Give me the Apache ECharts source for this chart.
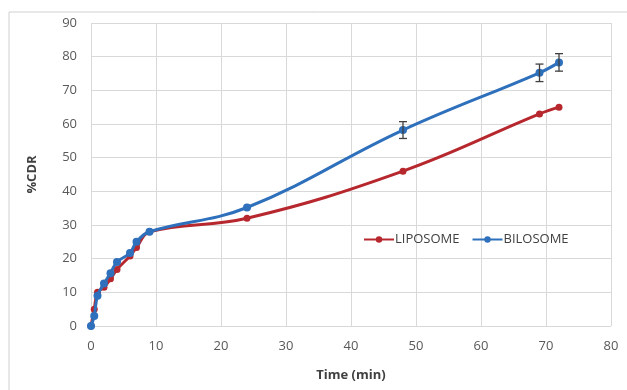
<!DOCTYPE html>
<html><head><meta charset="utf-8">
<script src="https://cdn.jsdelivr.net/npm/echarts@6/dist/echarts.min.js"></script>
<style>html,body{margin:0;padding:0;background:#fff}#c{width:627px;height:390px}</style>
</head><body><div id="c"></div>
<script>
var times = [0, 0.5, 1, 2, 3, 4, 6, 7, 9, 24, 48, 69, 72];
var liposome = [0, 5, 10, 11.5, 14, 16.8, 20.8, 23.3, 28, 32, 46, 63, 65];
var bilosome = [0, 3, 9, 12.6, 15.7, 19, 21.7, 25, 28, 35.2, 58.2, 75.2, 78.3];
var bilosomeErr = [0, 0, 0, 0, 0, 0, 0, 0, 0, 0, 2.5, 2.6, 2.6];
var xTicks = [0, 10, 20, 30, 40, 50, 60, 70, 80];
var yTicks = [0, 10, 20, 30, 40, 50, 60, 70, 80, 90];

var red = '#b7282e', blue = '#2e70bb';
function pairs(v){ return times.map(function(t,i){ return [t, v[i]]; }); }
var errData = [];
times.forEach(function(t,i){ if (bilosomeErr[i] > 0) errData.push([t, bilosome[i]-bilosomeErr[i], bilosome[i]+bilosomeErr[i]]); });

var chart = echarts.init(document.getElementById('c'));
chart.setOption({
  animation: false,
  graphic: [{type:'rect', shape:{x:9, y:12, width:640, height:400}, style:{fill:null, stroke:'#d0d0d0', lineWidth:1}, silent:true}],
  grid: {left: 91, right: 16, top: 23, bottom: 64},
  legend: {
    left: 358, top: 228, itemGap: 12, itemWidth: 30, itemHeight: 8,
    textStyle: {fontFamily: 'Open Sans', fontSize: 13, color: '#404040', padding: [0,0,0,-4]},
    data: ['LIPOSOME', 'BILOSOME']
  },
  xAxis: {
    type: 'value', min: 0, max: 80, interval: 10,
    name: 'Time (min)', nameLocation: 'middle', nameGap: 43,
    nameTextStyle: {fontFamily: 'Open Sans', fontWeight: 'bold', fontSize: 13, color: '#404040'},
    axisLine: {show: false}, axisTick: {show: false},
    axisLabel: {margin: 14, fontFamily: 'Open Sans', fontSize: 13, color: '#595959'},
    splitLine: {show: true, lineStyle: {color: '#d9d9d9', width: 1}}
  },
  yAxis: {
    type: 'value', min: 0, max: 90, interval: 10,
    name: '%CDR', nameLocation: 'middle', nameGap: 52, nameRotate: 90,
    nameTextStyle: {fontFamily: 'Open Sans', fontWeight: 'bold', fontSize: 13, color: '#404040'},
    axisLine: {show: false}, axisTick: {show: false},
    axisLabel: {margin: 14, fontFamily: 'Open Sans', fontSize: 13, color: '#595959'},
    splitLine: {show: true, lineStyle: {color: '#d9d9d9', width: 1}}
  },
  series: [
    {name: 'LIPOSOME', type: 'line', data: pairs(liposome), smooth: 0.4,
     symbol: 'circle', symbolSize: 7, lineStyle: {color: red, width: 3}, itemStyle: {color: red}, z: 2},
    {name: 'BILOSOME', type: 'line', data: pairs(bilosome), smooth: 0.4,
     symbol: 'circle', symbolSize: 8, lineStyle: {color: blue, width: 3}, itemStyle: {color: blue}, z: 3},
    {type: 'custom', data: errData, z: 4, silent: true,
     renderItem: function(params, api){
       var x = api.value(0);
       var lo = api.coord([x, api.value(1)]);
       var hi = api.coord([x, api.value(2)]);
       var w = 4;
       var st = {stroke: '#404040', lineWidth: 1.3};
       return {type: 'group', children: [
         {type:'line', shape:{x1:lo[0], y1:lo[1], x2:hi[0], y2:hi[1]}, style: st},
         {type:'line', shape:{x1:lo[0]-w, y1:lo[1], x2:lo[0]+w, y2:lo[1]}, style: st},
         {type:'line', shape:{x1:hi[0]-w, y1:hi[1], x2:hi[0]+w, y2:hi[1]}, style: st}
       ]};
     }}
  ]
});
</script></body></html>
